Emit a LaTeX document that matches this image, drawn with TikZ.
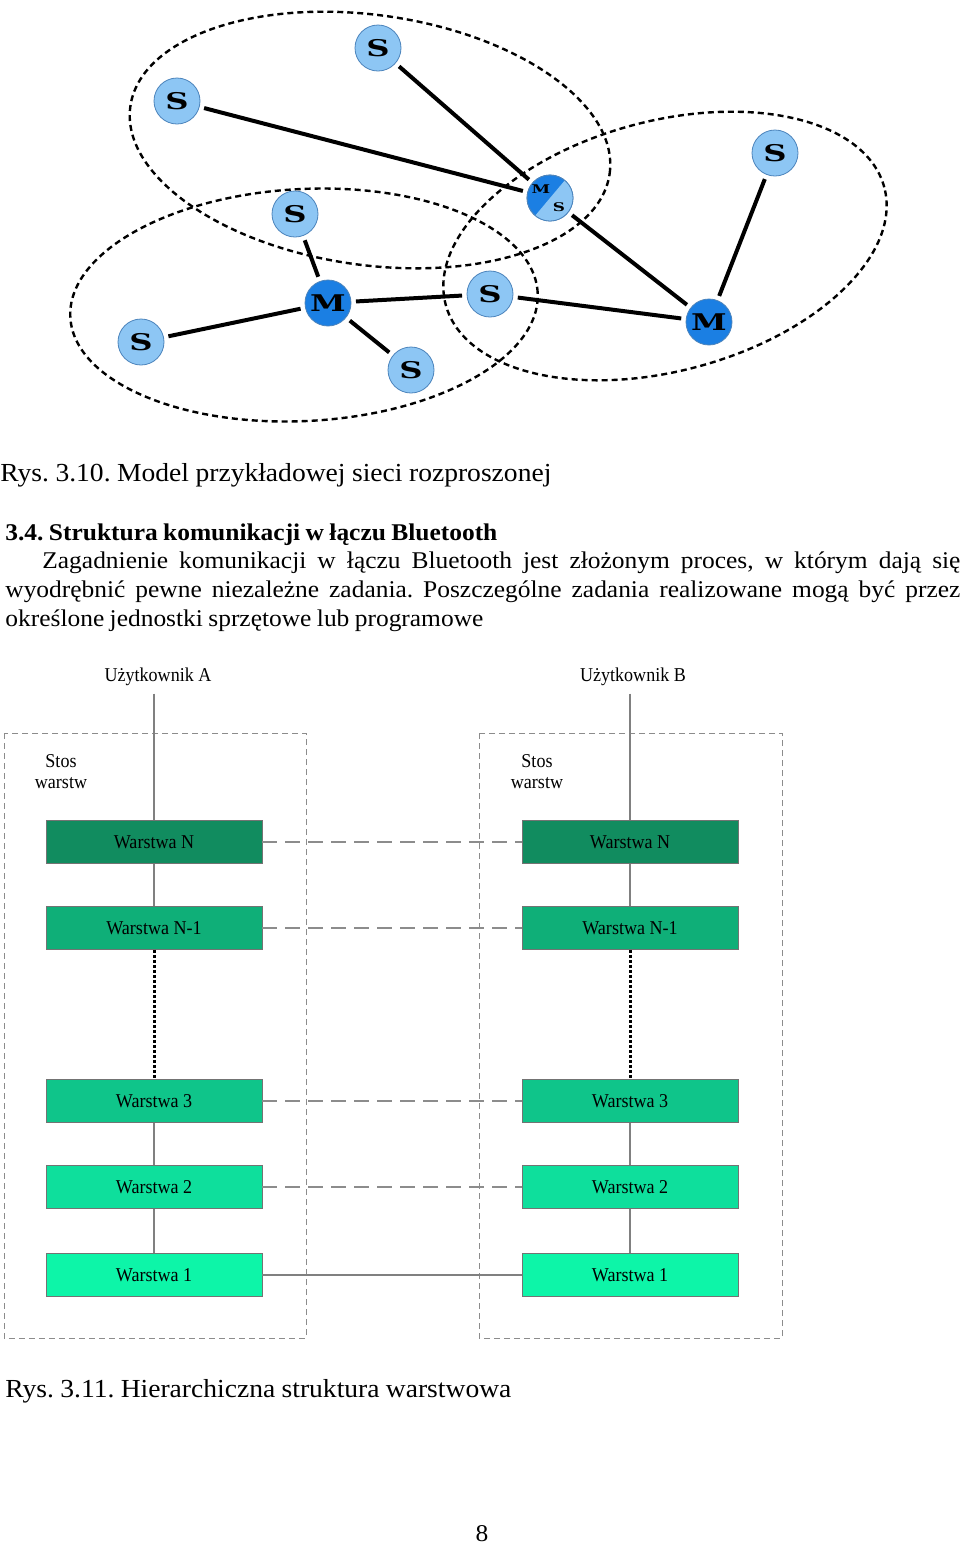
\documentclass[tikz,border=0pt]{standalone}
\usepackage{fontspec}
\setmainfont{Liberation Serif}
\newfontfamily\capfont[FakeStretch=1.06]{Liberation Serif}
\newfontfamily\txtfont[FakeStretch=1.06]{Liberation Serif}
\newfontfamily\figfont[FakeStretch=0.92]{Liberation Serif}
\newfontfamily\devfont[FakeStretch=1.4]{DejaVu Serif}
\usetikzlibrary{positioning,calc}
\frenchspacing

\definecolor{slavebl}{HTML}{8DC6F4}
\definecolor{masterbl}{HTML}{1B7FE3}
\definecolor{nodeedge}{HTML}{4C84BC}
\definecolor{layN}{HTML}{118C5F}
\definecolor{layNa}{HTML}{0FAF78}
\definecolor{layC}{HTML}{0FC58A}
\definecolor{layB}{HTML}{0EDF9C}
\definecolor{layA}{HTML}{0DF5A8}

\tikzset{
	dev/.style = {
			circle,
			minimum size = 23pt,
			inner sep = 0pt,
			outer sep = 2.5pt,
			draw = nodeedge,
			line width = 0.4pt,
			font = \devfont\bfseries\fontsize{11.5}{11.5}\selectfont,
		},
	slave/.style = {dev, fill=slavebl},
	master/.style = {dev, fill=masterbl},
	link/.style = {line width=2pt, black},
	piconet/.style = {line width=1.2pt, dash pattern=on 3pt off 2pt},
	layer/.style = {
			rectangle,
			minimum width = 108pt,
			minimum height = 21.5pt,
			inner sep = 0pt,
			draw = black!55,
			line width = 0.4pt,
			text = black,
			font = \figfont\fontsize{9.8}{10}\selectfont,
		},
	label/.style = {anchor=base, inner sep=0pt, text=black, font=\figfont\fontsize{9.8}{10}\selectfont},
	wire/.style = {draw=black!50, line width=0.6pt},
	dotline/.style = {draw=black, line width=1.5pt, dash pattern=on 1.5pt off 1pt},
	peer/.style = {draw=black!45, line width=0.6pt, dash pattern=on 7.5pt off 4pt},
	stackbox/.style = {draw=black!45, line width=0.5pt, dash pattern=on 3pt off 2pt},
	line/.style = {anchor=base west, inner sep=0pt},
}

\begin{document}
\begin{tikzpicture}[x=0.5pt,y=0.5pt]
        \fill[white] (0,0) rectangle (960,-1544);
        \useasboundingbox (0,0) rectangle (960,-1544);
        % piconets
        \draw[piconet, rotate around={-8:(370,-140)}] (370,-140) ellipse [x radius=242, y radius=125];
        \draw[piconet, rotate around={3:(304,-305)}] (304,-305) ellipse [x radius=234, y radius=116];
        \draw[piconet, rotate around={15:(665,-246)}] (665,-246) ellipse [x radius=227, y radius=125];
        % devices
        \node[slave] at (378,-48) (s1) {S};
        \node[slave] at (177,-101) (s2) {S};
        \node[slave] at (295,-214) (s3) {S};
        \node[slave] at (141,-342) (s4) {S};
        \node[slave] at (411,-370) (s5) {S};
        \node[slave] at (490,-294) (s6) {S};
        \node[slave] at (775,-153) (s7) {S};
        \node[master] at (328,-303) (m1) {M};
        \node[master] at (709,-322) (m2) {M};
        \node[master] at (550,-198) (ms) {};
        \fill[slavebl] (ms.center) ++(50:11.5pt) arc[start angle=50, end angle=-130, radius=11.5pt] -- cycle;
        \draw[nodeedge, line width=0.4pt] (ms.center) circle (11.5pt);
        \node[font=\devfont\bfseries\fontsize{6}{6}\selectfont, inner sep=0pt] at (541,-189) (msm) {M};
        \node[font=\devfont\bfseries\fontsize{6}{6}\selectfont, inner sep=0pt] at (559,-207) (mss) {S};
        \draw[link] (s2) -- (ms);
        \draw[link] (s1) -- (ms);
        \draw[link] (s3) -- (m1);
        \draw[link] (s4) -- (m1);
        \draw[link] (m1) -- (s5);
        \draw[link] (m1) -- (s6);
        \draw[link] (s6) -- (m2);
        \draw[link] (ms) -- (m2);
        \draw[link] (s7) -- (m2);
        % text
        \node[line] at (0,-481) (cap1) {\capfont\fontsize{13}{15}\selectfont\makebox[275.5pt][s]{Rys. 3.10. Model przykładowej sieci rozproszonej}};
        \node[line] at (5,-540) (head) {\txtfont\bfseries\fontsize{12}{14}\selectfont\makebox[246pt][s]{3.4. Struktura komunikacji w łączu Bluetooth}};
        \node[line] at (42,-568) (par1) {\txtfont\fontsize{12}{14}\selectfont\makebox[459pt][s]{Zagadnienie komunikacji w łączu Bluetooth jest złożonym proces, w którym dają się}};
        \node[line] at (5,-597) (par2) {\txtfont\fontsize{12}{14}\selectfont\makebox[477.5pt][s]{wyodrębnić pewne niezależne zadania. Poszczególne zadania realizowane mogą być przez}};
        \node[line] at (5,-626) (par3) {\txtfont\fontsize{12}{14}\selectfont\makebox[239pt][s]{określone jednostki sprzętowe lub programowe}};
        % stacks
        \draw[stackbox] (4,-733) rectangle (306,-1338);
        \draw[stackbox] (479,-733) rectangle (782,-1338);
        \node[label] at (158,-681) (ua) {Użytkownik A};
        \node[label] at (633,-681) (ub) {Użytkownik B};
        \node[label] at (61,-767) (sa1) {Stos};
        \node[label] at (61,-788) (sa2) {warstw};
        \node[label] at (537,-767) (sb1) {Stos};
        \node[label] at (537,-788) (sb2) {warstw};
        \node[layer, fill=layN] at (154,-842) (aN) {Warstwa N};
        \node[layer, fill=layNa] at (154,-928) (aN1) {Warstwa N-1};
        \node[layer, fill=layC] at (154,-1101) (a3) {Warstwa 3};
        \node[layer, fill=layB] at (154,-1187) (a2) {Warstwa 2};
        \node[layer, fill=layA] at (154,-1275) (a1) {Warstwa 1};
        \node[layer, fill=layN] at (630,-842) (bN) {Warstwa N};
        \node[layer, fill=layNa] at (630,-928) (bN1) {Warstwa N-1};
        \node[layer, fill=layC] at (630,-1101) (b3) {Warstwa 3};
        \node[layer, fill=layB] at (630,-1187) (b2) {Warstwa 2};
        \node[layer, fill=layA] at (630,-1275) (b1) {Warstwa 1};
        \draw[wire] ([yshift=-4pt]ua.south -| aN.north) -- (aN.north);
        \draw[wire] ([yshift=-4pt]ub.south -| bN.north) -- (bN.north);
        \draw[wire] (aN) -- (aN1);
        \draw[wire] (a3) -- (a2);
        \draw[wire] (a2) -- (a1);
        \draw[wire] (bN) -- (bN1);
        \draw[wire] (b3) -- (b2);
        \draw[wire] (b2) -- (b1);
        \draw[dotline] (aN1) -- (a3);
        \draw[dotline] (bN1) -- (b3);
        \draw[peer] (aN) -- (bN);
        \draw[peer] (aN1) -- (bN1);
        \draw[peer] (a3) -- (b3);
        \draw[peer] (a2) -- (b2);
        \draw[wire] (a1) -- (b1);
        \node[line] at (5,-1397) (cap2) {\capfont\fontsize{13}{15}\selectfont\makebox[253pt][s]{Rys. 3.11. Hierarchiczna struktura warstwowa}};
        \node[anchor=base, inner sep=0pt] at (482,-1541) (page) {\txtfont\fontsize{12}{14}\selectfont 8};
      \end{tikzpicture}
\end{document}
